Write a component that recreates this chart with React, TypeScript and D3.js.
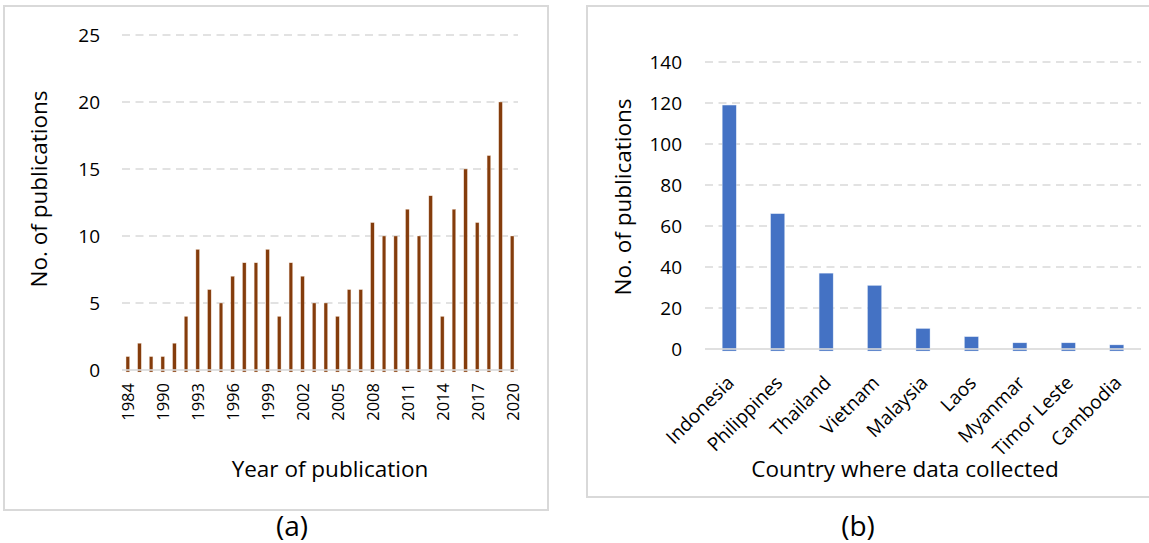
import React from "react";
import * as d3 from "d3";

const years = ["1984","1986","1988","1990","1991","1992","1993","1994","1995","1996","1997","1998","1999","2000","2001","2002","2003","2004","2005","2006","2007","2008","2009","2010","2011","2012","2013","2014","2015","2016","2017","2018","2019","2020"];
const yearCounts = [1,2,1,1,2,4,9,6,5,7,8,8,9,4,8,7,5,5,4,6,6,11,10,10,12,10,13,4,12,15,11,16,20,10];
const yearTicks = [0,5,10,15,20,25];

const countries = ["Indonesia","Philippines","Thailand","Vietnam","Malaysia","Laos","Myanmar","Timor Leste","Cambodia"];
const countryCounts = [119,66,37,31,10,6,3,3,2];
const countryTicks = [0,20,40,60,80,100,120,140];

const FONT = "'Open Sans', sans-serif";
const GRID = "#d9d9d9";

export default function App() {
  // Panel (a)
  const xA = d3.scaleBand<string>().domain(years).range([122, 518]).paddingInner(0.69).paddingOuter(0.345);
  const yA = d3.scaleLinear().domain([0, 25]).range([370, 35]);
  // Panel (b)
  const xB = d3.scaleBand<string>().domain(countries).range([705, 1141]).paddingInner(0.71).paddingOuter(0.355);
  const yB = d3.scaleLinear().domain([0, 140]).range([349, 62]);

  return (
    <svg width={1149} height={543} style={{ position: "absolute", left: 0, top: 0, background: "#fff" }} fontFamily={FONT}>
      <rect x={0} y={0} width={1149} height={543} fill="#fff" />
      {/* panel frames */}
      <rect x={4} y={6} width={544} height={504} fill="none" stroke={GRID} strokeWidth={2} />
      <rect x={587} y={6} width={570} height={491} fill="none" stroke={GRID} strokeWidth={2} />

      {/* ===== Panel (a) ===== */}
      {yearTicks.filter(t => t > 0).map(t => (
        <line key={"ga" + t} x1={122} x2={518} y1={yA(t)} y2={yA(t)} stroke={GRID} strokeWidth={1.6} strokeDasharray="8 5.5" />
      ))}
      {yearTicks.map(t => (
        <text key={"ta" + t} x={100} y={yA(t)} textAnchor="end" dominantBaseline="central" fontSize={19} fill="#000">{t}</text>
      ))}
      {years.map((yr, i) => (
        <rect key={"ba" + yr} x={xA(yr)!} y={yA(yearCounts[i])} width={xA.bandwidth()} height={yA(0) - yA(yearCounts[i]) + 2}
          fill="#843C0C" stroke="#f3e0d3" strokeWidth={0.4} />
      ))}
      <line x1={122} x2={518} y1={yA(0)} y2={yA(0)} stroke={GRID} strokeWidth={2} opacity={0.8} />
      {years.map((yr, i) => i % 3 === 0 ? (
        <text key={"la" + yr} transform={`translate(${xA(yr)! + xA.bandwidth() / 2},383) rotate(-90)`} textAnchor="end" dominantBaseline="central" fontSize={16.5} fill="#000">{yr}</text>
      ) : null)}
      <text transform="translate(38,189) rotate(-90)" textAnchor="middle" dominantBaseline="central" fontSize={22.5} fill="#000">No. of publications</text>
      <text x={330} y={477} textAnchor="middle" fontSize={22.5} fill="#000">Year of publication</text>
      <text x={292} y={536} textAnchor="middle" fontSize={28} fill="#000">(a)</text>

      {/* ===== Panel (b) ===== */}
      {countryTicks.filter(t => t > 0).map(t => (
        <line key={"gb" + t} x1={705} x2={1141} y1={yB(t)} y2={yB(t)} stroke={GRID} strokeWidth={1.6} strokeDasharray="8 5.5" />
      ))}
      {countryTicks.map(t => (
        <text key={"tb" + t} x={682} y={yB(t)} textAnchor="end" dominantBaseline="central" fontSize={19} fill="#000">{t}</text>
      ))}
      {countries.map((c, i) => (
        <rect key={"bb" + c} x={xB(c)!} y={yB(countryCounts[i])} width={xB.bandwidth()} height={yB(0) - yB(countryCounts[i]) + 2}
          fill="#4472C4" stroke="#dce6f5" strokeWidth={0.4} />
      ))}
      <line x1={705} x2={1141} y1={yB(0)} y2={yB(0)} stroke={GRID} strokeWidth={2} opacity={0.8} />
      {countries.map(c => (
        <text key={"lb" + c} transform={`translate(${xB(c)! + xB.bandwidth() / 2 + 6},384) rotate(-45)`} textAnchor="end" fontSize={19} fill="#000">{c}</text>
      ))}
      <text transform="translate(622,197) rotate(-90)" textAnchor="middle" dominantBaseline="central" fontSize={22.5} fill="#000">No. of publications</text>
      <text x={905} y={477} textAnchor="middle" fontSize={22.5} fill="#000">Country where data collected</text>
      <text x={858} y={536} textAnchor="middle" fontSize={28} fill="#000">(b)</text>
    </svg>
  );
}
